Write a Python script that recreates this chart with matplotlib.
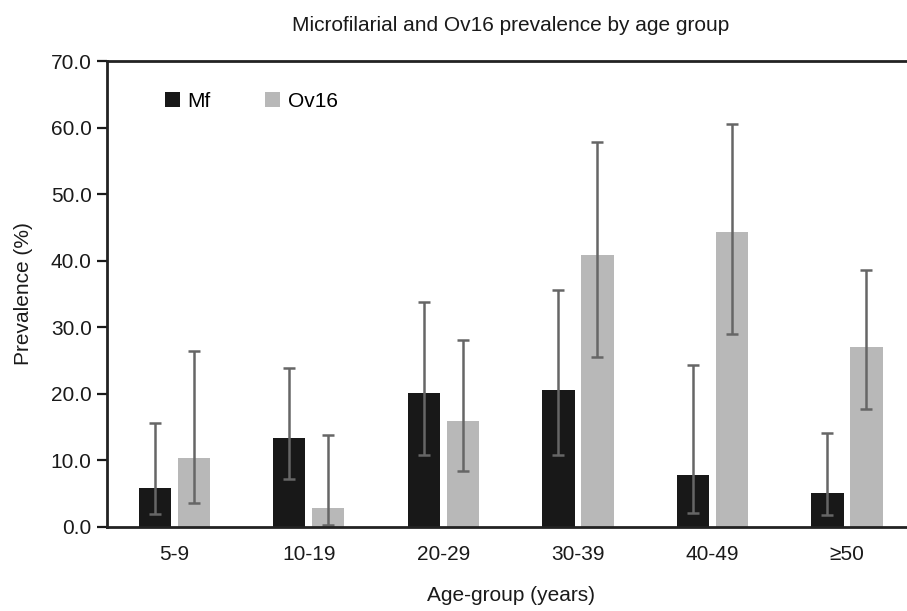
import matplotlib

matplotlib.use("Agg")
import matplotlib.pyplot as plt
import numpy as np

# values (prevalence %, with 95% CI bounds)
age_groups = ["5-9", "10-19", "20-29", "30-39", "40-49", "\u226550"]
mf = [5.8, 13.4, 20.1, 20.5, 7.7, 5.1]
mf_low = [1.9, 7.2, 10.8, 10.8, 2.1, 1.7]
mf_high = [15.6, 23.8, 33.8, 35.6, 24.3, 14.1]
ov16 = [10.4, 2.8, 15.9, 40.9, 44.3, 27.0]
ov16_low = [3.6, 0.3, 8.3, 25.5, 28.9, 17.7]
ov16_high = [26.4, 13.8, 28.1, 57.9, 60.6, 38.6]
y_ticks = [0, 10, 20, 30, 40, 50, 60, 70]

plt.rcParams["font.family"] = ["Liberation Sans", "DejaVu Sans"]

MF_COLOR = "#181818"
OV_COLOR = "#b8b8b8"
ERR_COLOR = "#666666"
TEXT = "#1a1a1a"
WIDTH = 0.24
OFFSET = 0.145
FS = 15


def yerr(vals, low, high):
    v = np.asarray(vals)
    return np.vstack([v - np.asarray(low), np.asarray(high) - v])


fig = plt.figure(figsize=(9.07, 6.11), dpi=100)
ax = fig.add_axes([0.118, 0.138, 0.89, 0.762])

x = np.arange(len(age_groups))
err_kw = dict(ecolor=ERR_COLOR, elinewidth=1.8, capsize=4, capthick=1.8)
ax.bar(x - OFFSET, mf, WIDTH, color=MF_COLOR, label="Mf",
       yerr=yerr(mf, mf_low, mf_high), error_kw=err_kw, zorder=2)
ax.bar(x + OFFSET, ov16, WIDTH, color=OV_COLOR, label="Ov16",
       yerr=yerr(ov16, ov16_low, ov16_high), error_kw=err_kw, zorder=2)

ax.set_xlim(-0.5, len(age_groups) - 0.5)
ax.set_ylim(0, 70)
ax.set_yticks(y_ticks)
ax.set_yticklabels([f"{t:.1f}" for t in y_ticks])
ax.set_xticks(x)
ax.set_xticklabels(age_groups)
ax.tick_params(axis="x", length=0, pad=13, labelsize=FS, colors=TEXT)
ax.tick_params(axis="y", length=7, width=1.6, direction="out", pad=4,
               labelsize=FS, colors=TEXT)
for side in ("left", "top", "bottom"):
    ax.spines[side].set_linewidth(2)
    ax.spines[side].set_color("#222222")
ax.spines["right"].set_visible(False)

ax.set_ylabel("Prevalence (%)", fontsize=FS, labelpad=13, color=TEXT)
ax.set_xlabel("Age-group (years)", fontsize=FS, labelpad=16, color=TEXT)
fig.text(0.563, 0.958, "Microfilarial and Ov16 prevalence by age group",
         ha="center", va="center", fontsize=FS, color=TEXT)

ax.legend(loc="center left", bbox_to_anchor=(0.048, 0.914), ncol=2,
          frameon=False, handlelength=0.75, handleheight=0.75,
          handletextpad=0.35, columnspacing=2.6, fontsize=FS)

fig.savefig("out.png", dpi=100)
